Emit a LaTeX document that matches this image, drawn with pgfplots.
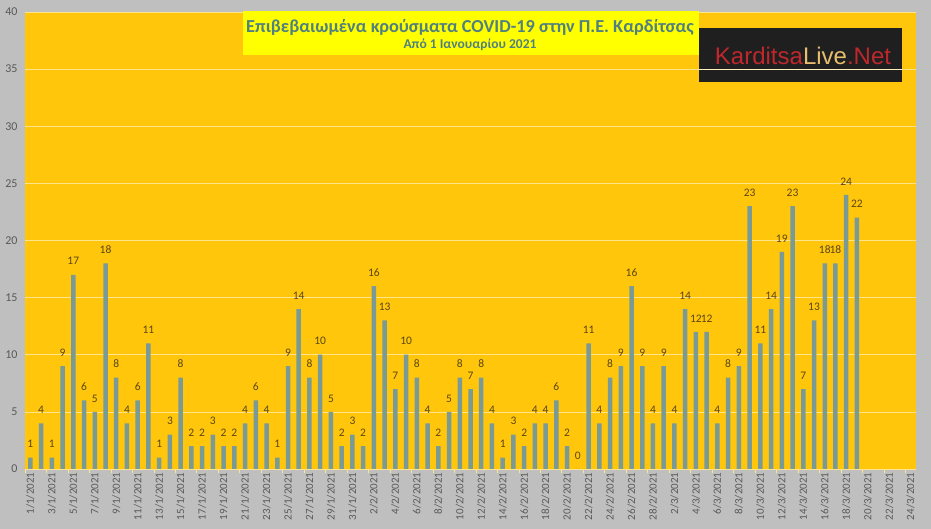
\documentclass[border=0pt]{standalone}
\usepackage{pgfplots}
\pgfplotsset{compat=1.18}
\usepackage{fontspec}
\setmainfont{Carlito}
\newfontfamily\logofont{Liberation Sans}
\definecolor{bggray}{RGB}{191,191,191}
\definecolor{plotorange}{RGB}{255,198,12}
\definecolor{barcol}{RGB}{122,154,150}
\definecolor{gridcol}{RGB}{255,228,140}
\definecolor{labcol}{RGB}{90,70,20}
\definecolor{tickcol}{RGB}{89,89,89}
\definecolor{titlecol}{RGB}{80,128,128}
\definecolor{titlebox}{RGB}{255,255,0}
\definecolor{logored}{RGB}{190,40,45}
\definecolor{logogold}{RGB}{232,190,110}
\pgfplotstableread{
x y
0 1
1 4
2 1
3 9
4 17
5 6
6 5
7 18
8 8
9 4
10 6
11 11
12 1
13 3
14 8
15 2
16 2
17 3
18 2
19 2
20 4
21 6
22 4
23 1
24 9
25 14
26 8
27 10
28 5
29 2
30 3
31 2
32 16
33 13
34 7
35 10
36 8
37 4
38 2
39 5
40 8
41 7
42 8
43 4
44 1
45 3
46 2
47 4
48 4
49 6
50 2
51 0
52 11
53 4
54 8
55 9
56 16
57 9
58 4
59 9
60 4
61 14
62 12
63 12
64 4
65 8
66 9
67 23
68 11
69 14
70 19
71 23
72 7
73 13
74 18
75 18
76 24
77 22
}\cases
\begin{document}
\begin{tikzpicture}[x=1pt,y=1pt]
\fill[bggray] (0,0) rectangle (931,529);
\useasboundingbox (0,0) rectangle (931,529);
\begin{axis}[
  at={(25pt,60pt)}, anchor=south west,
  scale only axis, width=891pt, height=457pt,
  xmin=-0.5, xmax=82.5, ymin=0, ymax=40,
  axis background/.style={fill=plotorange},
  axis x line*=bottom, axis y line*=left,
  y axis line style={draw=none},
  x axis line style={draw=gridcol, line width=0.8pt, -},
  ytick={0,5,...,40},
  ymajorgrids, grid style={draw=gridcol, line width=0.7pt},
  major tick length=0pt,
  xtick={0,2,...,82},
  xticklabels={1/1/2021,3/1/2021,5/1/2021,7/1/2021,9/1/2021,11/1/2021,13/1/2021,15/1/2021,17/1/2021,19/1/2021,21/1/2021,23/1/2021,25/1/2021,27/1/2021,29/1/2021,31/1/2021,2/2/2021,4/2/2021,6/2/2021,8/2/2021,10/2/2021,12/2/2021,14/2/2021,16/2/2021,18/2/2021,20/2/2021,22/2/2021,24/2/2021,26/2/2021,28/2/2021,2/3/2021,4/3/2021,6/3/2021,8/3/2021,10/3/2021,12/3/2021,14/3/2021,16/3/2021,18/3/2021,20/3/2021,22/3/2021,24/3/2021},
  minor xtick={-0.5,1.5,...,81.5},
  minor tick length=4pt,
  tick align=outside,
  minor tick style={draw=gridcol, line width=0.6pt},
  xticklabel style={rotate=90, anchor=east, font=\fontsize{11}{11}\selectfont, text=tickcol},
  yticklabel style={font=\fontsize{12}{12}\selectfont, text=tickcol, xshift=-4pt},
  /pgf/number format/assume math mode=true,
  ybar, bar width=4.5pt,
  nodes near coords,
  every node near coord/.append style={font=\fontsize{11.5}{11.5}\selectfont, text=labcol, anchor=center, yshift=13.5pt},
]
\addplot[fill=barcol, draw=none] table[x=x,y=y] {\cases};
\end{axis}
% title box
\fill[titlebox] (243,474) rectangle (699,518);
\node[text=titlecol, font=\bfseries\fontsize{18.3}{18.3}\selectfont] at (470,502) {Επιβεβαιωμένα κρούσματα COVID-19 στην Π.Ε. Καρδίτσας};
\node[text=titlecol, font=\bfseries\fontsize{13.5}{13.5}\selectfont] at (470,484) {Από 1 Ιανουαρίου 2021};
% logo
\fill[black!88] (699,447) rectangle (902,501);
\draw[gridcol!60!white, line width=0.7pt] (699,459.9) -- (902,459.9);
\node[font=\logofont\fontsize{24}{24}\selectfont] at (803,473) {\textcolor{logored}{Karditsa}\textcolor{logogold}{Live}\textcolor{logored}{.Net}};
\end{tikzpicture}
\end{document}
